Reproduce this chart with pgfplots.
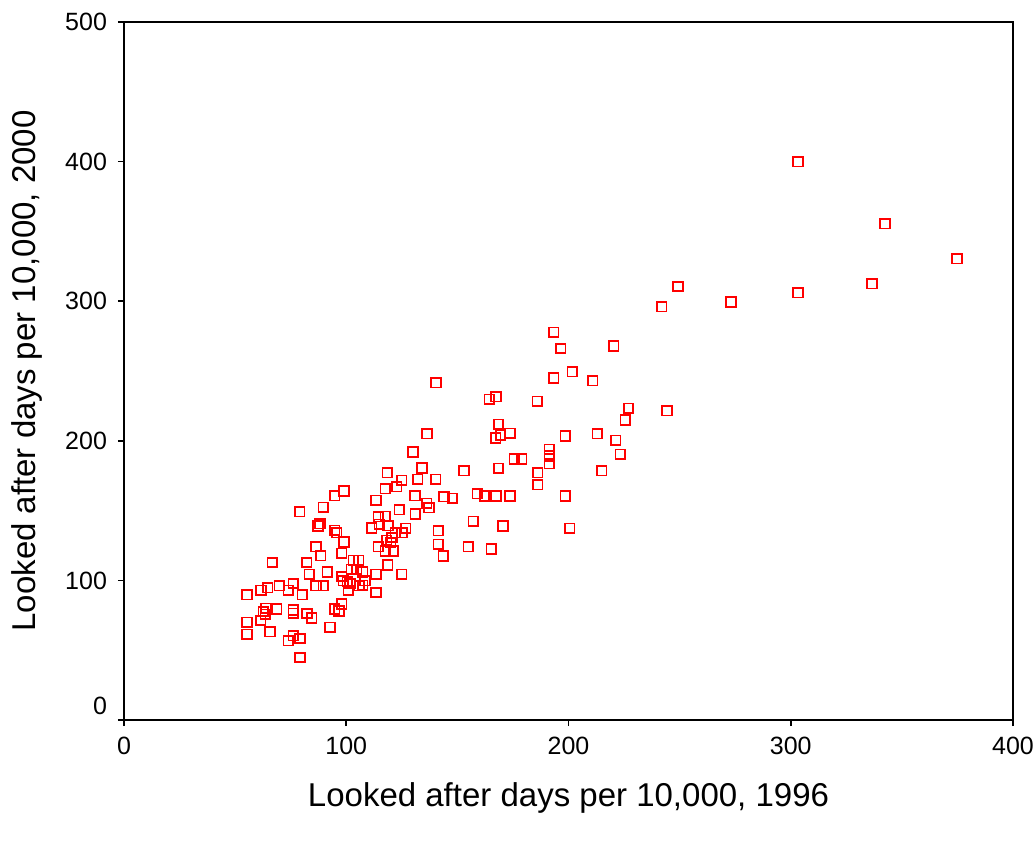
\documentclass[border=0pt]{standalone}
\usepackage{pgfplots}
\pgfplotsset{compat=1.18}
\usepackage{fontspec}
\setmainfont{Liberation Sans}

\begin{document}
\begin{tikzpicture}
\useasboundingbox (-62pt,-60pt) rectangle (456pt,360pt);
\begin{axis}[
    at={(0pt,0pt)}, anchor=south west,
    width=444.5pt, height=349pt,
    scale only axis,
    xmin=0, xmax=400,
    ymin=0, ymax=500,
    xtick={0,100,...,400},
    ytick={100,200,...,500},
    extra y ticks={0},
    extra y tick style={yticklabel style={yshift=7pt}},
    tick align=outside,
    xtick pos=bottom,
    ytick pos=left,
    major tick length=3pt,
    axis line style={line width=1pt},
    every tick/.style={black, line width=0.8pt},
    /pgf/number format/assume math mode=true,
    /pgf/number format/1000 sep={},
    tick label style={font=\fontsize{12.5}{14}\selectfont},
    xticklabel style={yshift=-2pt},
    yticklabel style={xshift=-2pt},
    label style={font=\fontsize{16.5}{19}\selectfont},
    xlabel={Looked after days per 10,000, 1996},
    ylabel={Looked after days per 10,000, 2000},
    xlabel style={at={(axis description cs:0.5,-0.112)}, anchor=center},
    ylabel style={at={(axis description cs:-0.109,0.5)}, anchor=center},
]
\addplot[only marks, mark=square, mark size=2.4pt, red,
    mark options={line width=0.85pt}] table {
x y
303.3 400.0
342.4 355.5
374.8 330.5
336.5 312.5
303.3 306.0
273.1 299.5
249.3 310.5
242.0 296.0
244.3 221.5
193.3 277.8
196.5 266.1
220.3 268.0
201.7 249.6
193.3 244.9
210.9 243.0
140.4 241.6
164.4 229.8
167.4 231.5
186.0 228.2
227.0 223.2
225.5 215.0
168.5 211.9
173.7 205.3
169.5 203.9
167.2 202.0
136.3 205.1
198.5 203.4
212.9 205.1
221.2 200.3
223.3 190.3
191.4 193.9
191.4 189.1
191.4 183.6
130.0 191.9
175.6 186.9
178.9 186.9
134.1 180.5
118.5 177.2
153.0 178.6
168.5 180.3
186.1 177.2
186.1 168.6
215.0 178.6
159.0 162.1
162.2 160.5
167.4 160.5
173.7 160.5
198.5 160.5
157.2 142.3
170.5 139.0
200.5 137.3
154.9 124.2
165.3 122.5
99.0 164.0
94.8 160.7
117.6 165.7
122.7 167.1
124.9 171.7
132.1 172.4
140.2 172.4
113.4 157.4
130.9 160.7
144.0 160.0
147.7 158.8
136.2 155.2
137.2 152.1
79.0 149.3
89.7 152.4
123.9 150.7
131.1 147.6
114.4 145.7
117.6 145.9
88.2 140.7
87.3 139.0
94.8 135.9
95.7 134.2
111.4 137.6
114.9 140.2
118.8 139.2
126.7 137.3
141.4 135.7
125.1 134.2
122.1 134.2
99.0 127.6
86.4 124.2
88.5 117.6
97.9 119.5
120.6 130.7
118.2 128.8
120.0 127.1
114.4 124.2
117.6 121.1
121.2 121.1
141.4 125.9
143.7 117.5
66.7 112.8
82.2 112.8
83.4 104.4
91.5 106.1
103.2 114.5
105.6 114.5
102.3 108.0
104.7 108.0
107.4 106.1
118.6 111.1
113.4 104.4
124.9 104.4
97.9 102.8
98.7 99.7
100.5 99.0
101.7 97.8
108.4 99.7
107.4 96.6
105.9 96.1
100.9 93.0
113.4 91.3
86.4 96.1
89.7 96.1
76.2 97.8
69.9 96.1
73.9 93.0
80.2 89.7
64.6 94.7
61.6 93.0
55.3 89.7
63.9 80.1
62.7 77.7
63.6 75.8
68.7 79.6
76.2 78.9
76.2 76.5
82.3 76.3
84.4 73.0
94.8 79.6
97.9 83.0
96.7 78.0
61.5 71.3
55.3 69.9
55.3 61.5
65.7 63.2
92.7 66.5
76.2 60.3
73.9 56.8
79.2 58.4
79.2 44.8
};
\end{axis}
\end{tikzpicture}
\end{document}
